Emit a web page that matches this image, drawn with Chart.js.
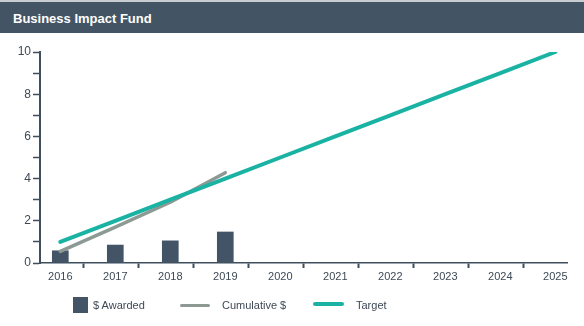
<!DOCTYPE html>
<html>
<head>
<meta charset="utf-8">
<script src="https://cdn.jsdelivr.net/npm/chart.js@4"></script>
<style>
html,body{margin:0;padding:0;background:#fff;}
#wrap{position:relative;width:584px;height:326px;overflow:hidden;font-family:"Liberation Sans",Arial,Helvetica,sans-serif;}
#hdr{position:absolute;left:0;top:0;width:584px;height:33px;background:#435565;border-top:2px solid #c9cdd2;box-sizing:border-box;}
#ttl{position:absolute;left:13px;top:12px;color:#fff;font-weight:bold;font-size:13px;line-height:13px;white-space:nowrap;}
#cv{position:absolute;left:0;top:0;}
.lg{position:absolute;font-size:11px;line-height:13px;color:#3d4955;white-space:nowrap;}
.sw{position:absolute;}
</style>
</head>
<body>
<div id="wrap">
  <canvas id="cv" width="584" height="326"></canvas>
  <div id="hdr"></div>
  <div id="ttl">Business Impact Fund</div>
  <div class="sw" style="left:73px;top:297px;width:15px;height:16px;background:#425466;"></div>
  <div class="lg" style="left:93px;top:299px;">$ Awarded</div>
  <div class="sw" style="left:180px;top:304px;width:30px;height:3px;background:#8d9a94;border-radius:1.5px;"></div>
  <div class="lg" style="left:222px;top:299px;">Cumulative $</div>
  <div class="sw" style="left:313px;top:302px;width:31px;height:4px;background:#1ab3a3;border-radius:2px;"></div>
  <div class="lg" style="left:356px;top:299px;">Target</div>
</div>
<script>
// ---- data ----
const years = [2016, 2017, 2018, 2019, 2020, 2021, 2022, 2023, 2024, 2025];
const yearLabels = ['2016', '2017', '2018', '2019', '2020', '2021', '2022', '2023', '2024', '2025'];
const awardedYears = [2016, 2017, 2018, 2019];
const awarded = [0.58, 0.85, 1.05, 1.47];
const cumulative = [0.55, 1.7, 2.88, 4.28];
const target = [1, 2, 3, 4, 5, 6, 7, 8, 9, 10];
const yTickLabels = ['0', '', '2', '', '4', '', '6', '', '8', '', '10'];

// ---- styling / layout ----
const axisColor = '#3e4e5c';
const textColor = '#3d4955';
const fontFamily = '"Liberation Sans", Arial, Helvetica, sans-serif';
const xMin = 2015.631, xMax = 2025.213;
const tickShift = 0.42;

const ctx = document.getElementById('cv').getContext('2d');
new Chart(ctx, {
  data: {
    datasets: [
      {
        type: 'line',
        label: 'Target',
        xAxisID: 'x',
        yAxisID: 'y',
        data: years.map((y, i) => ({ x: y, y: target[i] })),
        borderColor: '#1ab3a3',
        borderWidth: 4,
        borderCapStyle: 'round',
        pointRadius: 0,
        tension: 0,
        order: 1
      },
      {
        type: 'line',
        label: 'Cumulative $',
        xAxisID: 'x',
        yAxisID: 'y',
        data: awardedYears.map((y, i) => ({ x: y, y: cumulative[i] })),
        borderColor: '#8d9a94',
        borderWidth: 3.5,
        borderCapStyle: 'round',
        borderJoinStyle: 'round',
        pointRadius: 0,
        tension: 0,
        order: 2
      },
      {
        type: 'bar',
        label: '$ Awarded',
        xAxisID: 'x',
        yAxisID: 'y',
        data: awardedYears.map((y, i) => ({ x: y, y: awarded[i] })),
        backgroundColor: '#425466',
        barThickness: 16,
        order: 3
      }
    ]
  },
  options: {
    responsive: false,
    animation: false,
    events: [],
    layout: { padding: { left: 0, top: 52, right: 17, bottom: 0 } },
    plugins: { legend: { display: false }, tooltip: { enabled: false }, title: { display: false } },
    scales: {
      x: {
        type: 'linear',
        position: 'bottom',
        weight: 1,
        offset: false,
        min: xMin,
        max: xMax,
        afterBuildTicks: s => { s.ticks = years.map(y => ({ value: y })); },
        ticks: {
          callback: (v, i) => yearLabels[i],
          autoSkip: false,
          maxRotation: 0,
          padding: 2,
          color: textColor,
          font: { size: 11, family: fontFamily }
        },
        grid: { display: false, drawTicks: false, offset: false },
        border: { display: false },
        afterFit: s => { s.height = 58; }
      },
      xb: {
        type: 'linear',
        position: 'bottom',
        weight: 0,
        offset: false,
        min: xMin,
        max: xMax,
        afterBuildTicks: s => { s.ticks = years.slice(0, -1).map(y => ({ value: y + tickShift })); },
        ticks: { display: false },
        grid: { display: true, offset: false, drawOnChartArea: false, drawTicks: true, tickLength: 5, tickColor: axisColor, tickWidth: 2 },
        border: { display: true, color: axisColor, width: 1.5 },
        afterFit: s => { s.height = 5; }
      },
      y: {
        type: 'linear',
        position: 'left',
        min: 0,
        max: 10,
        afterBuildTicks: s => { s.ticks = yTickLabels.map((t, i) => ({ value: i })); },
        ticks: {
          callback: (v, i) => yTickLabels[i],
          autoSkip: false,
          padding: 2,
          color: textColor,
          font: { size: 12, family: fontFamily }
        },
        grid: { display: true, drawOnChartArea: false, drawTicks: true, tickLength: 7, tickColor: axisColor, tickWidth: 1.5 },
        border: { display: true, color: axisColor, width: 2 },
        afterFit: s => { s.width = 40; }
      }
    }
  }
});
</script>
</body>
</html>
